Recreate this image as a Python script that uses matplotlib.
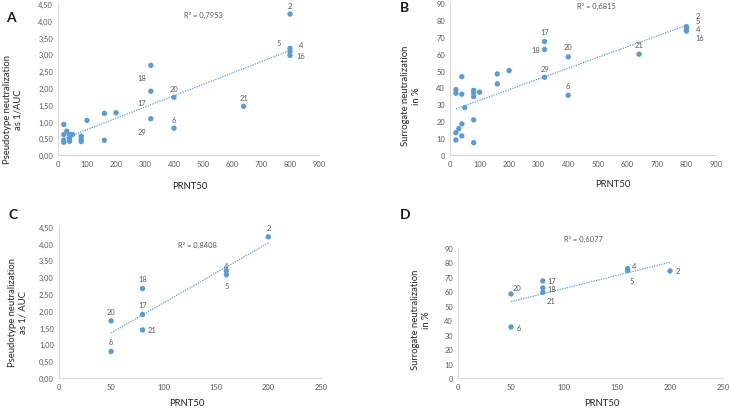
import numpy as np
import matplotlib
matplotlib.use("Agg")
import matplotlib.pyplot as plt

plt.rcParams['font.family'] = ['Lato', 'DejaVu Sans']

# ---------------- data ----------------
# Panel A: PRNT50 vs pseudotype neutralization (1/AUC)
a_x = [800, 800, 800, 800, 320, 320, 400, 640, 320, 400, 160, 200, 100,
       20, 30, 20, 40, 50, 20, 20, 40, 40, 80, 80, 80, 160]
a_y = [4.20, 3.18, 3.08, 2.97, 2.67, 1.90, 1.72, 1.45, 1.08, 0.80, 1.24, 1.26, 1.03,
       0.91, 0.71, 0.61, 0.61, 0.61, 0.44, 0.38, 0.50, 0.41, 0.56, 0.48, 0.40, 0.44]
a_labels = ["2", "5", "4", "16", "18", "17", "29", "20", "6", "21"]
a_lab_x = [800, 760, 838, 838, 289, 290, 290, 400, 400, 640]
a_lab_y = [4.45, 3.35, 3.28, 2.97, 2.30, 1.55, 0.70, 1.98, 1.07, 1.71]
a_r2 = "R² = 0,7953"

# Panel B: PRNT50 vs surrogate neutralization (%)
b_x = [800, 800, 800, 800, 640, 400, 400, 320, 320, 320, 200, 160, 160, 100,
       80, 80, 80, 80, 80, 50, 40, 40, 40, 40, 30, 20, 20, 20, 20]
b_y = [76.0, 75.0, 74.0, 73.4, 59.7, 58.1, 35.4, 67.2, 62.5, 46.0, 50.0, 48.0, 42.1, 37.2,
       38.3, 36.8, 34.6, 20.8, 7.3, 28.1, 46.4, 36.0, 18.4, 11.3, 15.6, 38.7, 36.6, 13.2, 8.9]
b_labels = ["2", "5", "4", "16", "17", "18", "20", "29", "6", "21"]
b_lab_x = [840, 840, 840, 845, 320, 291, 400, 320, 400, 640]
b_lab_y = [82.8, 79.4, 74.9, 69.6, 73.0, 62.5, 64.0, 51.5, 41.3, 65.6]
b_r2 = "R² = 0,6815"

# Panel C: subset, PRNT50 vs 1/AUC
c_x = [200, 160, 160, 80, 80, 80, 50, 50]
c_y = [4.20, 3.19, 3.07, 2.66, 1.89, 1.43, 1.70, 0.79]
c_labels = ["2", "4", "5", "18", "17", "20", "21", "6"]
c_lab_x = [200, 160, 160, 80, 80, 50, 89, 50]
c_lab_y = [4.48, 3.36, 2.76, 2.96, 2.19, 1.98, 1.43, 1.10]
c_r2 = "R² = 0,8408"

# Panel D: subset, PRNT50 vs surrogate %
d_x = [200, 160, 160, 80, 80, 80, 50, 50]
d_y = [74.1, 75.7, 74.4, 67.2, 62.3, 59.3, 58.2, 35.3]
d_labels = ["2", "4", "5", "17", "18", "21", "20", "6"]
d_lab_x = [207, 166, 164, 88, 88, 88, 56, 57]
d_lab_y = [74.1, 78.0, 67.2, 67.2, 62.3, 53.5, 62.8, 35.3]
d_r2 = "R² = 0,6077"

# ---------------- style ----------------
W, H = 731, 410
BLUE = '#5B9BD5'
GREY_TXT = '#595959'
AX_COL = '#D9D9D9'
SMALL = 5.4

fig = plt.figure(figsize=(W / 100, H / 100), dpi=100)
fig.patch.set_facecolor('white')


def make_ax(l, r, t, b):
    return fig.add_axes([l / W, 1 - b / H, (r - l) / W, (b - t) / H])


def style(ax, xmax, xstep, ymax, ystep, fmt):
    ax.set_xlim(0, xmax)
    ax.set_ylim(0, ymax)
    ax.set_xticks(np.arange(0, xmax + 1e-9, xstep))
    ax.set_yticks(np.arange(0, ymax + 1e-9, ystep))
    ax.set_xticklabels([f"{int(v)}" for v in np.arange(0, xmax + 1e-9, xstep)])
    ax.set_yticklabels([fmt(v) for v in np.arange(0, ymax + 1e-9, ystep)])
    for s in ['top', 'right']:
        ax.spines[s].set_visible(False)
    for s in ['left', 'bottom']:
        ax.spines[s].set_color(AX_COL)
        ax.spines[s].set_linewidth(0.8)
    ax.tick_params(length=0, labelsize=SMALL, labelcolor=GREY_TXT, pad=3.5)
    ax.set_facecolor('white')


def fmt2(v):
    return f"{v:.2f}".replace('.', ',')


def fmt0(v):
    return f"{int(round(v))}"


def plot_panel(ax, xs, ys, labels, lx, ly, r2, r2x, r2y):
    xs = np.array(xs, float)
    ys = np.array(ys, float)
    k, c = np.polyfit(xs, ys, 1)
    tx = np.array([xs.min(), xs.max()])
    ax.plot(tx, k * tx + c, linestyle=(0, (1, 1)), color=BLUE, lw=0.9, zorder=2)
    ax.scatter(xs, ys, s=15, color=BLUE, edgecolors='none', zorder=3, clip_on=False)
    for t, x, y in zip(labels, lx, ly):
        ax.text(x, y, t, fontsize=SMALL, color=GREY_TXT, ha='center', va='center', clip_on=False)
    ax.text(r2x, r2y, r2, fontsize=SMALL, color=GREY_TXT, ha='center', va='center', clip_on=False)


# Panel A
axA = make_ax(58, 319, 5, 156)
style(axA, 900, 100, 4.5, 0.5, fmt2)
plot_panel(axA, a_x, a_y, a_labels, a_lab_x, a_lab_y, a_r2, 500, 4.2)

# Panel B
axB = make_ax(450, 716, 4, 156)
style(axB, 900, 100, 90, 10, fmt0)
plot_panel(axB, b_x, b_y, b_labels, b_lab_x, b_lab_y, b_r2, 497, 88.8)

# Panel C
axC = make_ax(58.7, 320.7, 227.7, 379)
style(axC, 250, 50, 4.5, 0.5, fmt2)
plot_panel(axC, c_x, c_y, c_labels, c_lab_x, c_lab_y, c_r2, 132, 3.96)

# Panel D
axD = make_ax(458, 723, 249, 379)
style(axD, 250, 50, 90, 10, fmt0)
plot_panel(axD, d_x, d_y, d_labels, d_lab_x, d_lab_y, d_r2, 118, 96.7)


def ftext(x, y, s, **kw):
    fig.text(x / W, 1 - y / H, s, **kw)


# Panel letters
for s, x, y in [("A", 11, 18), ("B", 404, 8), ("C", 13, 215), ("D", 405, 215)]:
    ftext(x, y, s, fontsize=10, fontweight='bold', ha='center', va='center', color='#1a1a1a')

# Axis titles
lab_kw = dict(fontsize=6.8, color='#262626', ha='center', va='center', rotation=90,
              linespacing=1.25)
ftext(13, 110, "Pseudotype neutralization\nas 1/AUC", **lab_kw)
ftext(411, 96, "Surrogate neutralization\nin %", **lab_kw)
ftext(18, 313, "Pseudotype neutralization\nas 1/ AUC", **lab_kw)
ftext(421, 320, "Surrogate neutralization\nin %", **lab_kw)

x_kw = dict(fontsize=6.8, color='#262626', ha='center', va='center')
ftext(190, 187, "PRNT50", **x_kw)
ftext(613, 185, "PRNT50", **x_kw)
ftext(187, 404, "PRNT50", **x_kw)
ftext(602, 404, "PRNT50", **x_kw)

fig.savefig("out.png", dpi=100, facecolor='white')
